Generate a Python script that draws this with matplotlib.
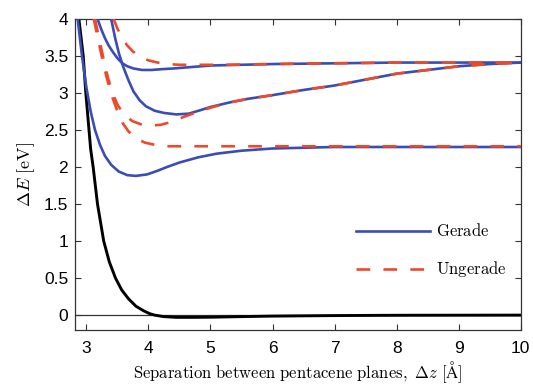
import matplotlib
matplotlib.use('Agg')
import matplotlib.pyplot as plt
from matplotlib.ticker import FormatStrFormatter

plt.rcParams['mathtext.fontset'] = 'cm'
plt.rcParams['font.family'] = ['Liberation Sans', 'DejaVu Sans']

# ground state curve (black)
xBlack = [2.88, 2.95, 2.99, 3.04, 3.07, 3.11, 3.18, 3.28, 3.37, 3.47, 3.57, 3.68, 3.8, 3.92,
          4.02, 4.1, 4.25, 4.45, 4.7, 5.0, 5.5, 6.0, 7.0, 8.0, 10.0]
yBlack = [4.0, 3.5, 3.02, 2.53, 2.24, 2.0, 1.5, 1.0, 0.72, 0.5, 0.34, 0.22, 0.12, 0.06,
          0.02, 0.0, -0.02, -0.03, -0.03, -0.028, -0.02, -0.013, -0.006, -0.002, 0.0]

# Gerade (blue, solid)
xG1 = [2.86, 2.93, 3.0, 3.07, 3.14, 3.22, 3.3, 3.4, 3.52, 3.66, 3.8, 3.98, 4.15, 4.3, 4.5,
       4.8, 5.1, 5.5, 6.0, 6.5, 7.0, 8.0, 9.0, 10.0]
yG1 = [4.0, 3.5, 3.08, 2.75, 2.5, 2.3, 2.15, 2.03, 1.94, 1.89, 1.88, 1.9, 1.95, 2.0, 2.06,
       2.13, 2.18, 2.22, 2.25, 2.26, 2.27, 2.27, 2.27, 2.27]
xG2 = [3.4, 3.47, 3.53, 3.6, 3.68, 3.76, 3.86, 3.96, 4.1, 4.25, 4.45, 4.65, 4.85, 5.0, 5.3,
       5.6, 6.0, 6.5, 7.0, 7.5, 8.0, 8.5, 9.0, 9.5, 10.0]
yG2 = [4.0, 3.72, 3.52, 3.34, 3.17, 3.02, 2.9, 2.82, 2.76, 2.73, 2.71, 2.72, 2.77, 2.81, 2.87,
       2.92, 2.97, 3.04, 3.1, 3.18, 3.26, 3.31, 3.36, 3.39, 3.41]
xG3 = [3.18, 3.24, 3.3, 3.36, 3.43, 3.5, 3.58, 3.66, 3.76, 3.9, 4.05, 4.2, 4.4, 4.7, 5.0,
       5.5, 6.0, 7.0, 8.0, 9.0, 10.0]
yG3 = [4.0, 3.86, 3.74, 3.64, 3.55, 3.47, 3.4, 3.36, 3.33, 3.31, 3.31, 3.32, 3.33, 3.35, 3.37,
       3.38, 3.39, 3.4, 3.41, 3.41, 3.41]

# Ungerade (red, dashed)
xU1 = [3.12, 3.19, 3.26, 3.33, 3.41, 3.49, 3.58, 3.68, 3.8, 3.94, 4.1, 4.3, 4.5, 5.0, 6.0,
       7.0, 8.0, 9.0, 10.0]
yU1 = [4.0, 3.72, 3.45, 3.2, 2.96, 2.78, 2.6, 2.48, 2.39, 2.33, 2.3, 2.28, 2.28, 2.28, 2.28,
       2.28, 2.28, 2.28, 2.28]
xU2 = [3.14, 3.21, 3.28, 3.35, 3.43, 3.51, 3.61, 3.74, 3.9, 4.05, 4.2, 4.38, 4.58, 4.82, 5.0,
       5.3, 5.6, 6.0, 6.5, 7.0, 7.5, 8.0, 8.5, 9.0, 9.5, 10.0]
yU2 = [4.0, 3.72, 3.45, 3.2, 2.98, 2.83, 2.71, 2.62, 2.57, 2.56, 2.57, 2.61, 2.68, 2.75, 2.8,
       2.87, 2.92, 2.97, 3.04, 3.1, 3.18, 3.26, 3.31, 3.36, 3.39, 3.41]
xU3 = [3.44, 3.5, 3.57, 3.65, 3.75, 3.87, 4.0, 4.15, 4.3, 4.5, 4.8, 5.2, 6.0, 7.0, 8.0, 9.0, 10.0]
yU3 = [4.0, 3.87, 3.76, 3.65, 3.56, 3.49, 3.44, 3.41, 3.39, 3.38, 3.38, 3.38, 3.39, 3.4, 3.41,
       3.41, 3.41]

blue = '#3a4cb5'
red = '#ee4a2a'

fig = plt.figure(figsize=(5.33, 3.85), dpi=100)
ax = fig.add_axes([0.141, 0.143, 0.836, 0.808])

ax.axhline(0, color='#333333', lw=0.9, zorder=1)
ax.plot(xBlack, yBlack, color='black', lw=2.1, zorder=2)

gLines = []
for xs, ys in [(xG1, yG1), (xG2, yG2), (xG3, yG3)]:
    gLines += ax.plot(xs, ys, color=blue, lw=1.9, zorder=3)

uLines = []
for xs, ys in [(xU1, yU1), (xU2, yU2), (xU3, yU3)]:
    uLines += ax.plot(xs, ys, color=red, lw=1.9, dashes=(5.2, 5.0), zorder=4)

ax.set_xlim(2.82, 10)
ax.set_ylim(-0.2, 4)
ax.set_xticks(range(3, 11))
ax.set_yticks([0, 0.5, 1, 1.5, 2, 2.5, 3, 3.5, 4])
ax.yaxis.set_major_formatter(FormatStrFormatter('%g'))
ax.tick_params(direction='in', top=True, right=True, labelsize=12.5, length=4,
               color='#333333')
ax.tick_params(axis='x', pad=8)
ax.tick_params(axis='y', pad=5)
for sp in ax.spines.values():
    sp.set_color('#333333')
    sp.set_linewidth(0.9)

ax.set_xlabel(r'$\mathrm{Separation\ between\ pentacene\ planes,}\ \Delta z\ [\mathrm{\AA}]$',
              fontsize=12, labelpad=2)
ax.set_ylabel(r'$\Delta E\ [\mathrm{eV}]$', fontsize=13, labelpad=5)

ax.legend([gLines[0], uLines[0]], [r'$\mathrm{Gerade}$', r'$\mathrm{Ungerade}$'],
          loc='center', bbox_to_anchor=(0.80, 0.254), frameon=False, fontsize=12,
          handlelength=4.4, handletextpad=0.4, labelspacing=1.2)

fig.savefig('out.png', dpi=100)
